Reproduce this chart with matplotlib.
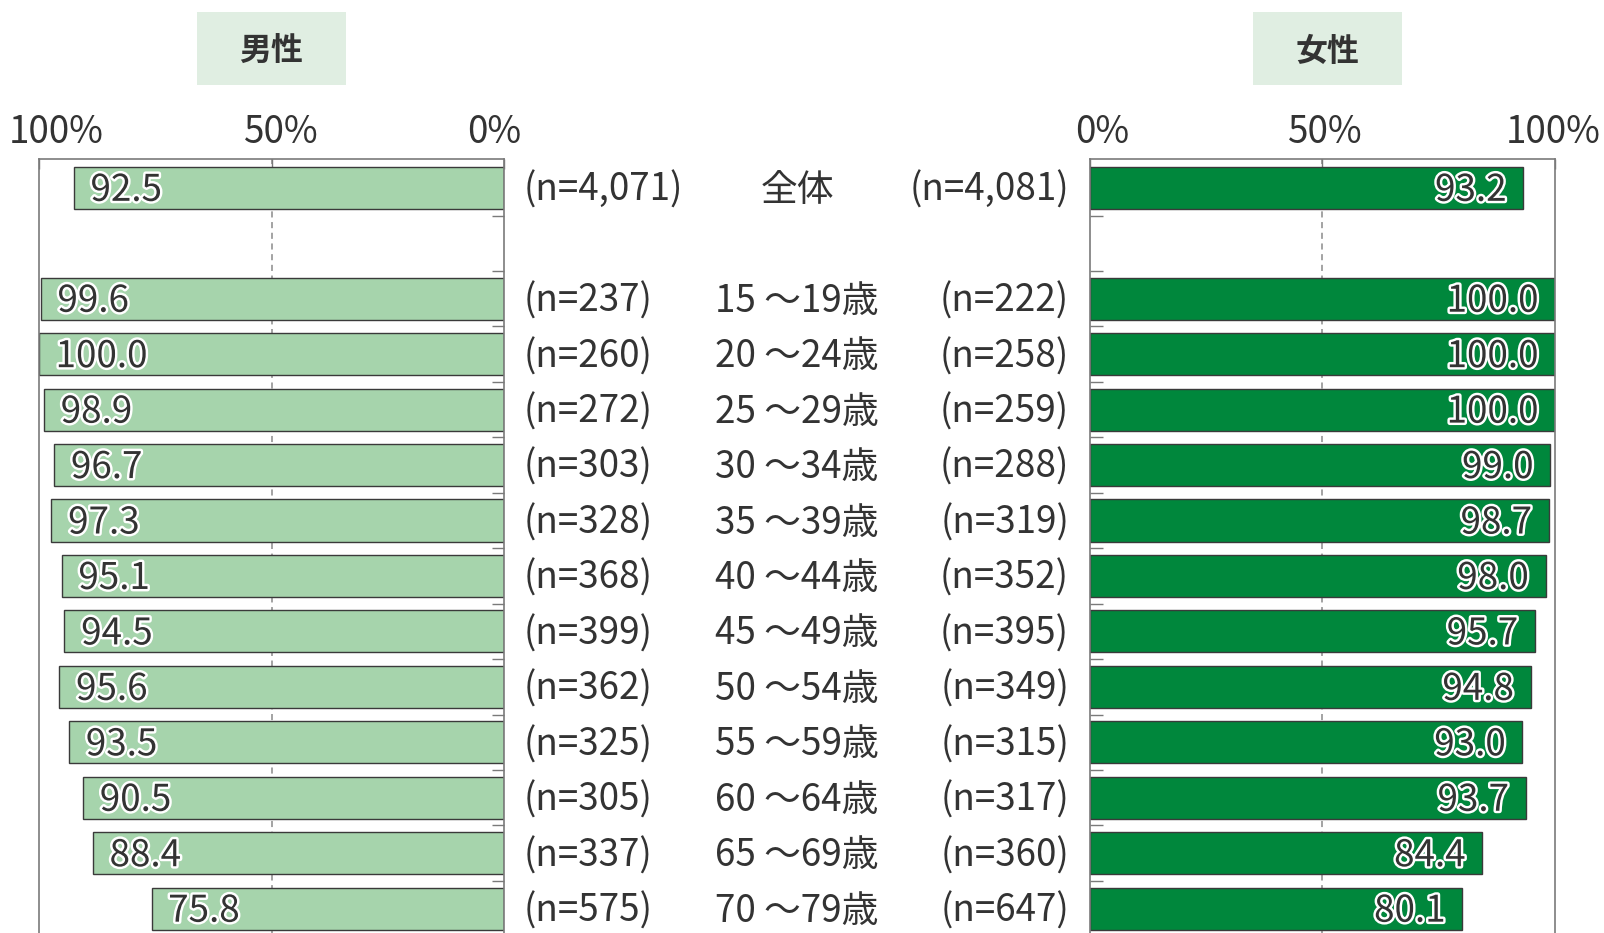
import matplotlib
matplotlib.use('Agg')
import matplotlib.pyplot as plt
import matplotlib.patheffects as pe
import matplotlib.transforms as mtransforms
from matplotlib.patches import Rectangle

plt.rcParams['font.family'] = ['Noto Sans CJK JP', 'DejaVu Sans']

# ---------------- data ----------------
categories = ['全体', '15 ～19歳', '20 ～24歳', '25 ～29歳', '30 ～34歳', '35 ～39歳',
              '40 ～44歳', '45 ～49歳', '50 ～54歳', '55 ～59歳', '60 ～64歳',
              '65 ～69歳', '70 ～79歳']
male_values = [92.5, 99.6, 100.0, 98.9, 96.7, 97.3, 95.1, 94.5, 95.6, 93.5, 90.5, 88.4, 75.8]
female_values = [93.2, 100.0, 100.0, 100.0, 99.0, 98.7, 98.0, 95.7, 94.8, 93.0, 93.7, 84.4, 80.1]
male_n = ['4,071', '237', '260', '272', '303', '328', '368', '399', '362', '325', '305', '337', '575']
female_n = ['4,081', '222', '258', '259', '288', '319', '352', '395', '349', '315', '317', '360', '647']
xtick_values = [0, 50, 100]
xtick_labels = ['0%', '50%', '100%']
panel_titles = ['男性', '女性']

# row positions: 全体 then a blank row, then the age groups
positions = [0] + list(range(2, 2 + len(categories) - 1))

# ---------------- layout ----------------
W, H = 1604, 933
fig = plt.figure(figsize=(W / 100, H / 100), dpi=100)

row_px = 55.45
y_top, y_bot = -0.527, 13.6
top_px = 158.6
height_px = (y_bot - y_top) * row_px
bottom_frac = 1 - (top_px + height_px) / H
height_frac = height_px / H

ax_m = fig.add_axes([38.9 / W, bottom_frac, (504.3 - 38.9) / W, height_frac])
ax_f = fig.add_axes([1089.5 / W, bottom_frac, (1555.0 - 1089.5) / W, height_frac])

male_color = '#A6D4AC'
female_color = '#00873C'
edge_color = '#3a3a3a'
text_color = '#333333'
spine_color = '#7a7a7a'
bar_h = 0.76
fs = 26.5
dy_pt = -1.8   # small downward shift of row text

outline = [pe.withStroke(linewidth=3.5, foreground='white')]

for ax, vals, color, side in [(ax_m, male_values, male_color, 'm'),
                              (ax_f, female_values, female_color, 'f')]:
    ax.axvline(50, color='#8a8a8a', lw=1.1, ls=(0, (4, 3)), zorder=0)
    ax.barh(positions, vals, height=bar_h, color=color, edgecolor=edge_color,
            linewidth=1.0, zorder=2)
    ax.set_ylim(y_bot, y_top)
    if side == 'm':
        ax.set_xlim(100, 0)
    else:
        ax.set_xlim(0, 100)
    ax.xaxis.tick_top()
    ax.set_xticks(xtick_values)
    ax.set_xticklabels(xtick_labels)
    ax.tick_params(axis='x', direction='in', length=7, width=1, colors=spine_color,
                   labelcolor=text_color, labelsize=fs, pad=5)
    ax.set_yticks([k + 0.5 for k in range(0, 13)])
    ax.set_yticklabels([])
    if side == 'm':
        ax.yaxis.tick_right()
    else:
        ax.yaxis.tick_left()
    ax.tick_params(axis='y', direction='in', length=9, width=1, colors=spine_color)
    for s in ax.spines.values():
        s.set_color(spine_color)
        s.set_linewidth(1.2)
    for y, v in zip(positions, vals):
        if side == 'm':
            ax.annotate(f'{v:.1f}', xy=(v, y), xytext=(12, dy_pt), textcoords='offset points',
                        ha='left', va='center', fontsize=fs, color=text_color,
                        path_effects=outline, zorder=3)
        else:
            ax.annotate(f'{v:.1f}', xy=(v, y), xytext=(-12, dy_pt), textcoords='offset points',
                        ha='right', va='center', fontsize=fs, color=text_color,
                        path_effects=outline, zorder=3)

# shift the top tick labels slightly like the reference
def shift_labels(ax, dx_px):
    for lab, dx in zip(ax.get_xticklabels(), dx_px):
        lab.set_transform(lab.get_transform() +
                          mtransforms.ScaledTranslation(dx / 100, 0, fig.dpi_scale_trans))

shift_labels(ax_m, [-10, 10, 17])   # order: 0%, 50%, 100%
shift_labels(ax_f, [13, 3, -2])

# middle labels
trans = mtransforms.blended_transform_factory(fig.transFigure, ax_m.transData) + \
    mtransforms.ScaledTranslation(0, dy_pt / 72, fig.dpi_scale_trans)
for y, cat, mn, fn in zip(positions, categories, male_n, female_n):
    fig.text(523.8 / W, y, f'(n={mn})', transform=trans, ha='left', va='center',
             fontsize=fs, color=text_color)
    fig.text(797 / W, y, cat, transform=trans, ha='center', va='center',
             fontsize=fs, color=text_color)
    fig.text(1069 / W, y, f'(n={fn})', transform=trans, ha='right', va='center',
             fontsize=fs, color=text_color)

# panel titles
for (x0, x1), title in zip([(197.4, 345.8), (1253.0, 1401.5)], panel_titles):
    fig.patches.append(Rectangle((x0 / W, 1 - 84.9 / H), (x1 - x0) / W, (84.9 - 12.3) / H,
                                 transform=fig.transFigure, facecolor='#E0EEE2',
                                 edgecolor='none'))
    fig.text((x0 + x1) / 2 / W, 1 - 51.5 / H, title, ha='center', va='center',
             fontsize=23, color=text_color, fontweight='bold')

fig.savefig('out.png', dpi=100)
